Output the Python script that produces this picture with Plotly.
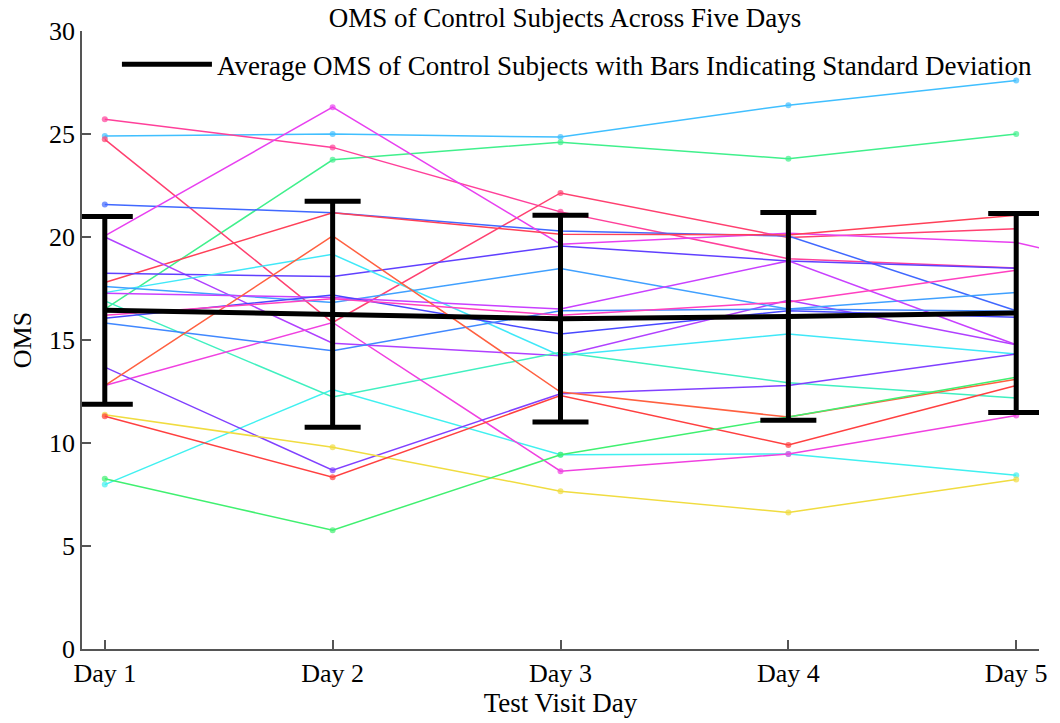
import plotly.graph_objects as go

days = ["Day 1", "Day 2", "Day 3", "Day 4", "Day 5"]
avg_oms = [16.44, 16.25, 16.035, 16.145, 16.31]
sd_oms = [4.56, 5.49, 5.015, 5.045, 4.83]

s01 = [24.9, 25.0, 24.85, 26.4, 27.6]
s02 = [16.5, 23.75, 24.6, 23.8, 25.0]
s03 = [25.72, 24.35, 21.22, 18.95, 18.5]
s04 = [24.74, 15.85, 22.14, 19.97, 20.4]
s05 = [21.58, 21.18, 20.29, 20.05, 16.42]
s06 = [20.05, 26.3, 19.65, 20.18, 19.73, 17.2]
s07 = [17.79, 21.18, 20.13, 20.1, 21.05]
s08 = [20.0, 14.84, 14.24, 16.93, 14.77]
s09 = [18.24, 18.08, 19.56, 18.84, 18.48]
s10 = [17.3, 19.16, 14.24, 15.29, 14.32]
s11 = [17.6, 16.82, 18.47, 16.5, 17.3]
s12 = [17.27, 17.06, 16.5, 18.84, 14.77]
s13 = [7.98, 12.6, 9.43, 9.47, 8.44]
s14 = [16.9, 12.23, 14.4, 12.92, 12.19]
s15 = [16.06, 17.19, 15.29, 16.42, 16.1]
s16 = [12.79, 15.85, 8.63, 9.47, 11.34]
s17 = [15.82, 14.48, 16.42, 16.5, 16.4]
s18 = [13.68, 8.68, 12.39, 12.79, 14.32]
s19 = [12.79, 20.05, 12.47, 11.26, 13.1]
s20 = [11.37, 9.79, 7.66, 6.63, 8.23]
s21 = [11.3, 8.34, 12.3, 9.9, 12.79]
s22 = [8.26, 5.77, 9.43, 11.26, 13.19]
s23 = [16.2, 17.0, 16.2, 16.85, 18.39]

subjects = [
    (s01, "#40bfff"), (s02, "#40f08c"), (s03, "#ff409a"), (s04, "#ff4070"),
    (s05, "#4068ff"), (s06, "#e840f0"), (s07, "#ff4058"), (s08, "#b040ff"),
    (s09, "#6040ff"), (s10, "#40e8f8"), (s11, "#40a0ff"), (s12, "#c840ff"),
    (s13, "#40f0f0"), (s14, "#40f0c0"), (s15, "#4848ff"), (s16, "#f040e0"),
    (s17, "#4088ff"), (s18, "#8040ff"), (s19, "#ff6040"), (s20, "#f0dc40"),
    (s21, "#ff4040"), (s22, "#40f070"), (s23, "#ff40c0"),
]

FONT = "Liberation Serif"
fig = go.Figure()

for vals, col in subjects:
    xs = list(range(1, len(vals) + 1))
    sizes = []
    for i, v in enumerate(vals):
        if i < len(avg_oms) and abs(v - avg_oms[i]) > sd_oms[i]:
            sizes.append(6)
        else:
            sizes.append(0)
    fig.add_trace(go.Scatter(
        x=xs, y=vals, mode="lines+markers",
        line=dict(color=col, width=1.5),
        marker=dict(color=col, size=sizes, line=dict(width=0)),
        showlegend=False, hoverinfo="skip"))

fig.add_trace(go.Scatter(
    x=list(range(1, len(days) + 1)), y=avg_oms, mode="lines",
    line=dict(color="black", width=5),
    error_y=dict(type="data", array=sd_oms, visible=True,
                 color="black", thickness=5, width=28),
    name="Average OMS of Control Subjects with Bars Indicating Standard Deviation",
    showlegend=True))

fig.update_layout(
    width=1060, height=723,
    margin=dict(l=82, r=18, t=31, b=72),
    paper_bgcolor="white", plot_bgcolor="white",
    font=dict(family=FONT, size=26, color="black"),
    title=dict(text="OMS of Control Subjects Across Five Days",
               x=565/1060, xanchor="center", y=1 - 18/723, yanchor="middle",
               yref="container", font=dict(family=FONT, size=27, color="black")),
    showlegend=True,
    legend=dict(x=0.0365, y=0.985, xanchor="left", yanchor="top",
                bgcolor="rgba(0,0,0,0)", itemwidth=90,
                font=dict(family=FONT, size=27, color="black")),
    xaxis=dict(range=[0.9, 5.1], tickvals=list(range(1, len(days) + 1)),
               ticktext=days, showgrid=False, zeroline=False,
               showline=True, linecolor="#555555", linewidth=1.5,
               ticks="inside", ticklen=9, tickcolor="#555555", tickwidth=1.5,
               tickfont=dict(family=FONT, size=26, color="black"),
               title=dict(text="Test Visit Day", standoff=4,
                          font=dict(family=FONT, size=27, color="black"))),
    yaxis=dict(range=[0, 30], dtick=5, showgrid=False, zeroline=False,
               showline=True, linecolor="#555555", linewidth=1.5,
               ticks="inside", ticklen=9, tickcolor="#555555", tickwidth=1.5,
               tickfont=dict(family=FONT, size=26, color="black"),
               title=dict(text="OMS", standoff=10,
                          font=dict(family=FONT, size=26, color="black"))),
)

fig.write_html("out.html")
